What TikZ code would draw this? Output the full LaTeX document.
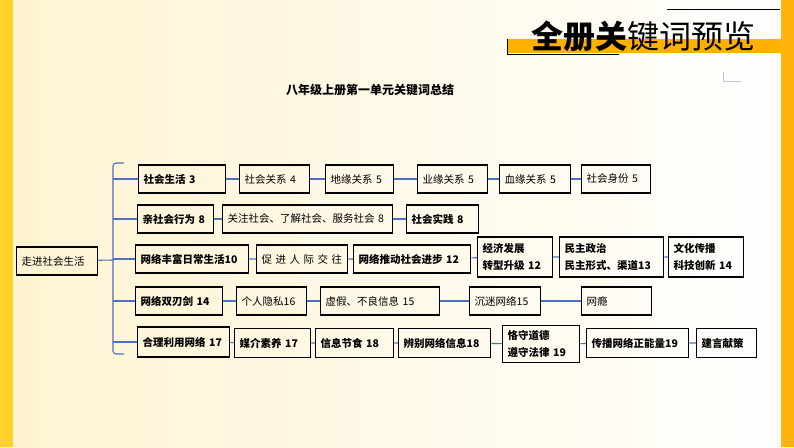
\documentclass[tikz,border=0pt]{standalone}
\usepackage{fontspec}
\setmainfont{Noto Sans CJK SC}
\usepackage{tikz}
\definecolor{bgcream}{HTML}{FFF3D2}
\definecolor{leftbar}{HTML}{FFD22A}
\definecolor{rightbar}{HTML}{FFB30C}
\definecolor{band}{HTML}{FFB000}
\definecolor{linkblue}{HTML}{4A72C0}
\definecolor{cornergray}{HTML}{C8C8C8}
\newcommand\kwfont{\fontsize{10.5}{17}\selectfont}
\tikzset{
  kbox/.style={draw=black, line width=1.4pt, anchor=west, align=left,
    inner xsep=5pt, inner ysep=0pt, font=\kwfont},
  key/.style={kbox, font=\kwfont\bfseries},
  link/.style={draw=linkblue, line width=1.1pt},
  frame/.style={line width=0.8pt}
}

\begin{document}
\begin{tikzpicture}[x=1pt, y=-1pt]
\useasboundingbox (0,0) rectangle (794,447);
% background and side bars
\shade[left color=bgcream, right color=white] (0,0) rectangle (794,447);
\fill[leftbar] (0,0) rectangle (13,447);
\fill[rightbar] (781,0) rectangle (794,447);

% header
\fill[band] (507,39) rectangle (781,53);
\draw[frame] (507,39) -- (507,54) -- (619,54);
\draw[frame] (667,9) -- (780,9);
\draw[cornergray, line width=1pt] (723,72) -- (723,81) -- (741,81);
\node[font=\fontsize{32}{32}\selectfont] (title) at (643,36) {\textbf{全册关}键词预览};
\node[font=\fontsize{12}{12}\selectfont\bfseries] (subtitle) at (370,90) {八年级上册第一单元关键词总结};

% root
\node[kbox, text width=71pt, minimum height=28pt] (zoujin) at (16,261) {走进社会生活};

% row 1
\node[key, text width=77pt, minimum height=28pt] (shenghuo) at (138,179) {社会生活 3};
\node[kbox, text width=60pt, minimum height=28pt] (guanxi) at (239,179) {社会关系 4};
\node[kbox, text width=58pt, minimum height=28pt] (diyuan) at (325,179) {地缘关系 5};
\node[kbox, text width=60pt, minimum height=28pt] (yeyuan) at (417,179) {业缘关系 5};
\node[kbox, text width=61pt, minimum height=28pt] (xueyuan) at (499,179) {血缘关系 5};
\node[kbox, text width=59pt, minimum height=28pt] (shenfen) at (581,179) {社会身份 5};

% row 2
\node[key, text width=66pt, minimum height=28pt] (qinshehui) at (137,219) {亲社会行为 8};
\node[kbox, text width=160pt, minimum height=28pt] (guanzhu) at (222,219) {关注社会、了解社会、服务社会 8};
\node[key, text width=62pt, minimum height=28pt] (shijian) at (406,219) {社会实践 8};

% row 3
\node[key, text width=103pt, minimum height=28pt] (fengfu) at (135,259) {网络丰富日常生活10};
\node[kbox, text width=81pt, minimum height=28pt] (jiaowang) at (256,259) {促 进 人 际 交 往};
\node[key, text width=107pt, minimum height=28pt] (tuidong) at (353,259) {网络推动社会进步 12};
\node[key, text width=65pt, minimum height=40pt] (jingji) at (477,257) {经济发展\\转型升级 12};
\node[key, text width=94pt, minimum height=40pt] (minzhu) at (559,257) {民主政治\\民主形式、渠道13};
\node[key, text width=65pt, minimum height=40pt] (wenhua) at (668,257) {文化传播\\科技创新 14};

% row 4
\node[key, text width=77pt, minimum height=28pt] (shuangren) at (135,301) {网络双刃剑 14};
\node[kbox, text width=60pt, minimum height=28pt] (yinsi) at (236,301) {个人隐私16};
\node[kbox, text width=109pt, minimum height=28pt] (xujia) at (320,301) {虚假、不良信息 15};
\node[kbox, text width=61pt, minimum height=28pt] (chenmi) at (469,301) {沉迷网络15};
\node[kbox, text width=60pt, minimum height=28pt] (wangyin) at (581,301) {网瘾};

% row 5
\node[key, text width=82pt, minimum height=30pt] (liyong) at (137,342) {合理利用网络 17};
\node[key, text width=66pt, minimum height=29pt] (meijie) at (234,343) {媒介素养 17};
\node[key, text width=68pt, minimum height=29pt] (jieshi) at (315,343) {信息节食 18};
\node[key, text width=82pt, minimum height=29pt] (bianbie) at (398,343) {辨别网络信息18};
\node[key, text width=67pt, minimum height=37pt] (keshou) at (502,344) {恪守道德\\遵守法律 19};
\node[key, text width=92pt, minimum height=29pt] (chuanbo) at (586,343) {传播网络正能量19};
\node[key, text width=50pt, minimum height=29pt] (jianyan) at (696,343) {建言献策};

% bracket
\coordinate (br) at (113,260);
\coordinate (brtop) at (124,163);
\coordinate (brbot) at (124,354);
\draw[link, rounded corners=3pt] (brtop) -- (br |- brtop) -- (br |- brbot) -- (brbot);
\draw[link] (zoujin) -- (br);
\draw[link] (br |- shenghuo) -- (shenghuo);
\draw[link] (br |- qinshehui) -- (qinshehui);
\draw[link] (br |- fengfu) -- (fengfu);
\draw[link] (br |- shuangren) -- (shuangren);
\draw[link] (br |- liyong) -- (liyong);

% rows
\draw[link] (shenghuo) -- (guanxi) -- (diyuan) -- (yeyuan) -- (xueyuan) -- (shenfen);
\draw[link] (qinshehui) -- (guanzhu) -- (shijian);
\draw[link] (fengfu) -- (jiaowang) -- (tuidong) -- (jingji) -- (minzhu) -- (wenhua);
\draw[link] (shuangren) -- (yinsi) -- (xujia) -- (chenmi) -- (wangyin);
\draw[link] (liyong) -- (meijie) -- (jieshi) -- (bianbie) -- (keshou) -- (chuanbo) -- (jianyan);
\end{tikzpicture}
\end{document}
